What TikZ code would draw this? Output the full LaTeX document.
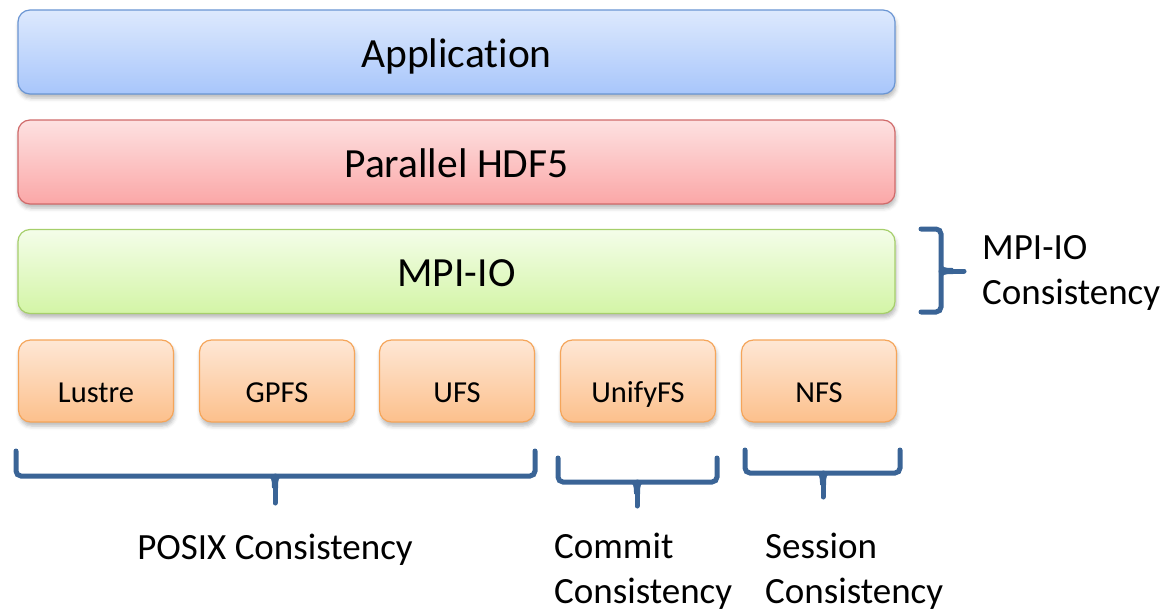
\documentclass[tikz,border=0pt]{standalone}
\usepackage{fontspec}
\setmainfont[Ligatures=NoCommon]{Carlito}
\usetikzlibrary{shadows.blur}
\definecolor{bracec}{HTML}{3A6496}
\definecolor{appT}{HTML}{DDE9FD}
\definecolor{appB}{HTML}{A8C6FB}
\definecolor{appD}{HTML}{6A95D3}
\definecolor{hdfT}{HTML}{FDE1E1}
\definecolor{hdfB}{HTML}{FBA7A7}
\definecolor{hdfD}{HTML}{D06A6A}
\definecolor{mpiT}{HTML}{F4FDE9}
\definecolor{mpiB}{HTML}{D3F5A6}
\definecolor{mpiD}{HTML}{A6CF6B}
\definecolor{fsT}{HTML}{FEE7D5}
\definecolor{fsB}{HTML}{FCC08C}
\definecolor{fsD}{HTML}{F5A55A}
\tikzset{
  box/.style={rounded corners=12pt, line width=1.2pt, inner sep=0pt,
    blur shadow={shadow xshift=1pt, shadow yshift=-4pt, shadow blur radius=4pt, shadow opacity=28}},
  bigbox/.style={box, minimum width=877pt, minimum height=84pt,
    font=\fontsize{41.5}{48}\selectfont, text height=30pt, text depth=0pt},
  fsbox/.style={box, minimum width=155pt, minimum height=82pt,
    top color=fsT, bottom color=fsB, draw=fsD,
    font=\fontsize{30.5}{36}\selectfont, text height=42pt, text depth=0pt},
  lbl/.style={inner sep=0pt, font=\fontsize{37}{45}\selectfont, align=left},
  brace/.style={draw=bracec, line width=5pt, rounded corners=5pt, line cap=round},
  cusp/.style={fill=bracec}
}
\begin{document}
\begin{tikzpicture}[x=1pt,y=-1pt]
\useasboundingbox (0,0) rectangle (1169,610);
\node[bigbox, top color=appT, bottom color=appB, draw=appD] (app) at (456.5,52) {Application};
\node[bigbox, top color=hdfT, bottom color=hdfB, draw=hdfD] (hdf) at (456.5,162) {Parallel HDF5};
\node[bigbox, top color=mpiT, bottom color=mpiB, draw=mpiD] (mpi) at (456.5,271.5) {MPI-IO};
\node[fsbox] (lustre) at (96,381) {Lustre};
\node[fsbox] (gpfs) at (277,381) {GPFS};
\node[fsbox] (ufs) at (457,381) {UFS};
\node[fsbox] (unify) at (638,381) {UnifyFS};
\node[fsbox] (nfs) at (819,381) {NFS};
% braces
\draw[brace] (16,451) -- (16,476) -- (535,476) -- (535,451);
\draw[brace] (275,476) -- (275,503);
\fill[cusp] (265,476) .. controls (272,476) and (272,480) .. (272,488) -- (278,488) .. controls (278,480) and (278,476) .. (285,476) -- cycle;
\draw[brace] (558,458) -- (558,482) -- (717,482) -- (717,458);
\draw[brace] (637,482) -- (637,506);
\fill[cusp] (627,482) .. controls (634,482) and (634,486) .. (634,494) -- (640,494) .. controls (640,486) and (640,482) .. (647,482) -- cycle;
\draw[brace] (745,450) -- (745,473) -- (900,473) -- (900,450);
\draw[brace] (823,473) -- (823,497);
\fill[cusp] (813,473) .. controls (820,473) and (820,477) .. (820,485) -- (826,485) .. controls (826,477) and (826,473) .. (833,473) -- cycle;
\draw[brace] (921,229) -- (941,229) -- (941,312) -- (921,312);
\draw[brace] (941,271) -- (964,271);
\fill[cusp] (941,261) .. controls (941,268) and (945,268) .. (953,268) -- (953,274) .. controls (945,274) and (941,274) .. (941,281) -- cycle;
% labels
\node[lbl, anchor=base] (posix) at (275,559) {POSIX Consistency};
\node[lbl, anchor=north west] (commit) at (554,533) {Commit\\Consistency};
\node[lbl, anchor=north west] (session) at (765,533) {Session\\Consistency};
\node[lbl, anchor=north west] (mpicons) at (982,235) {MPI-IO\\Consistency};
\end{tikzpicture}
\end{document}
